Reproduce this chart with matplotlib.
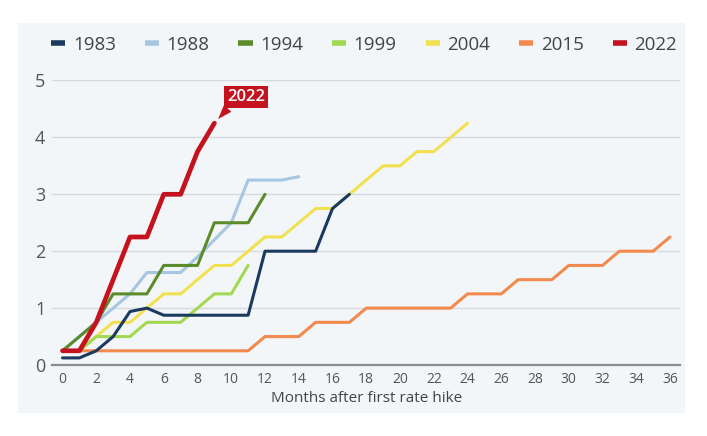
import matplotlib
matplotlib.use('Agg')
import matplotlib.pyplot as plt
from matplotlib.patches import Rectangle

plt.rcParams['font.family'] = ['Open Sans', 'DejaVu Sans']

# fed funds increase (percentage points) by months after first hike
months_1983 = list(range(0, 18))
vals_1983 = [0.125, 0.125, 0.25, 0.5, 0.94, 1.0, 0.875, 0.875, 0.875, 0.875, 0.875, 0.875,
             2.0, 2.0, 2.0, 2.0, 2.75, 3.0]
months_1988 = list(range(0, 15))
vals_1988 = [0.25, 0.5, 0.75, 1.0, 1.25, 1.625, 1.625, 1.625, 1.9, 2.2, 2.5, 3.25, 3.25, 3.25, 3.31]
months_1994 = list(range(0, 13))
vals_1994 = [0.25, 0.5, 0.75, 1.25, 1.25, 1.25, 1.75, 1.75, 1.75, 2.5, 2.5, 2.5, 3.0]
months_1999 = list(range(0, 12))
vals_1999 = [0.25, 0.25, 0.5, 0.5, 0.5, 0.75, 0.75, 0.75, 1.0, 1.25, 1.25, 1.75]
months_2004 = list(range(0, 25))
vals_2004 = [0.25, 0.25, 0.5, 0.75, 0.75, 1.0, 1.25, 1.25, 1.5, 1.75, 1.75, 2.0, 2.25, 2.25,
             2.5, 2.75, 2.75, 3.0, 3.25, 3.5, 3.5, 3.75, 3.75, 4.0, 4.25]
months_2015 = list(range(0, 37))
vals_2015 = [0.25] * 12 + [0.5, 0.5, 0.5, 0.75, 0.75, 0.75] + [1.0] * 6 + \
            [1.25, 1.25, 1.25, 1.5, 1.5, 1.5, 1.75, 1.75, 1.75, 2.0, 2.0, 2.0, 2.25]
months_2022 = list(range(0, 10))
vals_2022 = [0.25, 0.25, 0.75, 1.5, 2.25, 2.25, 3.0, 3.0, 3.75, 4.25]

# name, x, y, colour, width, z
series = [
    ('1983', months_1983, vals_1983, '#1c3a5e', 2.2, 4),
    ('1988', months_1988, vals_1988, '#a6c6e2', 2.2, 3),
    ('1994', months_1994, vals_1994, '#5c8b2c', 2.2, 3),
    ('1999', months_1999, vals_1999, '#a3d952', 2.2, 3),
    ('2004', months_2004, vals_2004, '#f1e150', 2.2, 2.5),
    ('2015', months_2015, vals_2015, '#f28a4e', 2.2, 2.5),
    ('2022', months_2022, vals_2022, '#c4121f', 3.4, 5),
]
xticks = list(range(0, 37, 2))
yticks = [0, 1, 2, 3, 4, 5]

fig = plt.figure(figsize=(7.07, 4.36), dpi=100)
fig.patches.append(Rectangle((0.0255, 0.0528), 0.9434, 0.8945, transform=fig.transFigure,
                             facecolor='#f3f6f9', edgecolor='none', zorder=-5))
ax = fig.add_axes([0.0741, 0.1628, 0.8879, 0.6526])
ax.set_facecolor('none')
ax.set_zorder(2)

for name, xs, ys, col, lw, z in series:
    ax.plot(xs, ys, color=col, lw=lw, label=name, zorder=z,
            solid_joinstyle='round', solid_capstyle='round')

ax.set_xlim(-0.6, 36.6)
ax.set_ylim(0, 5)
ax.set_xticks(xticks)
ax.set_yticks(yticks)
ax.tick_params(axis='x', length=0, pad=5, labelsize=10, labelcolor='#555555')
ax.tick_params(axis='y', length=0, pad=5, labelsize=13, labelcolor='#555555')
ax.grid(axis='y', color='#d6dade', lw=1)
for s in ['top', 'right', 'left']:
    ax.spines[s].set_visible(False)
ax.spines['bottom'].set_color('#8a8d90')
ax.spines['bottom'].set_linewidth(1.6)
ax.set_xlabel('Months after first rate hike', fontsize=11, color='#444444', labelpad=3)

ax.annotate('2022', xy=(months_2022[-1], vals_2022[-1]), xytext=(9, 13),
            textcoords='offset points', ha='left', va='bottom', fontsize=12,
            color='white', fontweight='semibold', zorder=6,
            bbox=dict(boxstyle='square,pad=0.2', fc='#c4121f', ec='none'),
            arrowprops=dict(arrowstyle='wedge,tail_width=0.6,shrink_factor=0.5', fc='#c4121f',
                            ec='none', relpos=(0.1, 0.0), shrinkA=0, shrinkB=4))

leg = fig.legend(loc='center', bbox_to_anchor=(0.515, 0.897), ncol=7, frameon=False,
                 fontsize=13.5, handlelength=0.75, handletextpad=0.4, columnspacing=1.55,
                 labelcolor='#444444')
for h in leg.legend_handles:
    h.set_linewidth(4)
    h.set_solid_capstyle('butt')

fig.savefig('out.png', dpi=100)
